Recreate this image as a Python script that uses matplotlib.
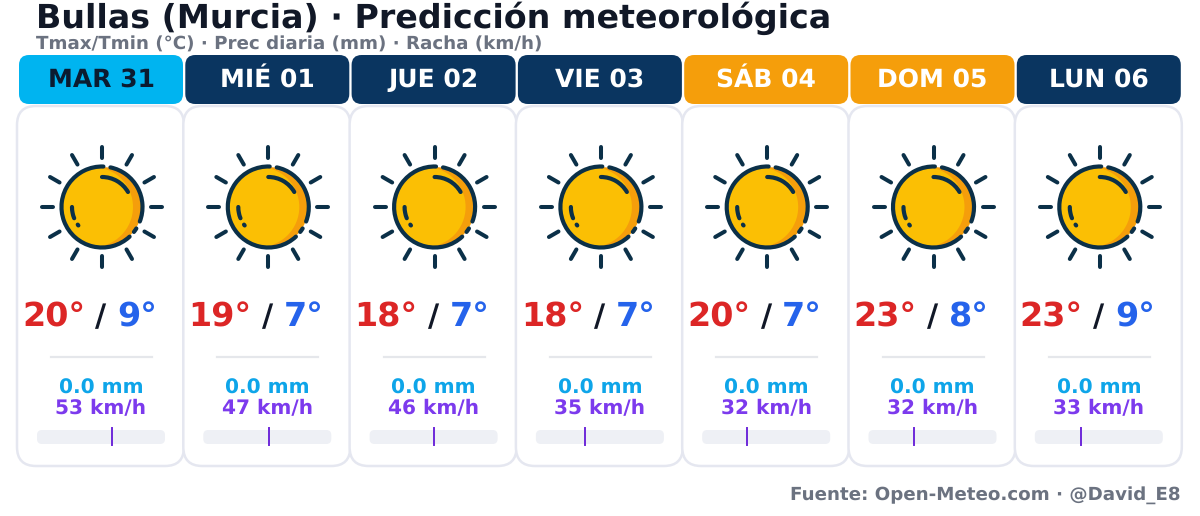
import numpy as np
import matplotlib.pyplot as plt
from matplotlib.patches import FancyBboxPatch, Circle, Arc

plt.rcParams["text.hinting"] = "none"

days = ["MAR 31", "MIÉ 01", "JUE 02", "VIE 03", "SÁB 04", "DOM 05", "LUN 06"]
tmax = [20, 19, 18, 18, 20, 23, 23]
tmin = [9, 7, 7, 7, 7, 8, 9]
prec = [0.0, 0.0, 0.0, 0.0, 0.0, 0.0, 0.0]
gust = [53, 47, 46, 35, 32, 32, 33]
header_colors = ["#00b4f0", "#0a3560", "#0a3560", "#0a3560", "#f59e0b", "#f59e0b", "#0a3560"]
header_text = ["#0b1b30", "white", "white", "white", "white", "white", "white"]
gust_max = 91

DARK = "#0b3048"

fig = plt.figure(figsize=(12, 5.16), dpi=100)
ax = fig.add_axes([0, 0, 1, 1])
ax.set_xlim(0, 1200)
ax.set_ylim(516, 0)
ax.axis("off")


def rbox(x0, y0, x1, y1, r, **kw):
    p = FancyBboxPatch((x0 + r, y0 + r), x1 - x0 - 2 * r, y1 - y0 - 2 * r,
                       boxstyle=f"round,pad={r},rounding_size={r}", **kw)
    ax.add_patch(p)


def draw_sun(cx, cy):
    # rays
    for a in np.arange(0, 360, 30):
        c, s = np.cos(np.radians(a)), np.sin(np.radians(a))
        ax.plot([cx + 49 * c, cx + 60 * c], [cy + 49 * s, cy + 60 * s], color=DARK,
                lw=2.9, solid_capstyle="round", zorder=3)
    # orange disc with yellow crescent cut
    disc = Circle((cx, cy), 40, fc="#f59e0b", ec="none", zorder=3)
    ax.add_patch(disc)
    yellow = Circle((cx - 9, cy), 40, fc="#fbbf04", ec="none", zorder=4)
    ax.add_patch(yellow)
    yellow.set_clip_path(disc)
    # outline with gaps (y axis inverted, angles go clockwise on screen)
    lw = 3.0
    for t1, t2 in [(-78, 21), (32, 38), (47, 272)]:
        ax.add_patch(Arc((cx, cy), 81, 81, theta1=t1, theta2=t2, color=DARK, lw=lw,
                         capstyle="round", zorder=5))
    # highlights
    for t1, t2 in [(-90, -30), (158, 180), (142, 144)]:
        ax.add_patch(Arc((cx, cy), 60, 60, theta1=t1, theta2=t2, color=DARK, lw=lw,
                         capstyle="round", zorder=5))


ax.text(36, 18, "Bullas (Murcia) · Predicción meteorológica", fontsize=23.95, fontweight="bold",
        color="#111827", ha="left", va="center")
ax.text(36, 44.5, "Tmax/Tmin (°C) · Prec diaria (mm) · Racha (km/h)", fontsize=13.17, fontweight="bold",
        color="#6b7280", ha="left", va="center")
ax.text(1181, 495, "Fuente: Open-Meteo.com · @David_E8", fontsize=13.17, fontweight="bold",
        color="#6b7280", ha="right", va="center")

pitch = 166.3
for i, day in enumerate(days):
    cx = 101 + i * pitch
    rbox(cx - 84, 106, cx + 83, 466, 19, fc="white", ec="#e5e7f0", lw=1.8, zorder=1)
    rbox(cx - 82, 55, cx + 82, 104, 10, fc=header_colors[i], ec="none", zorder=2)
    ax.text(cx, 80, day, fontsize=18, fontweight="bold", color=header_text[i],
            ha="center", va="center", zorder=6)

    draw_sun(cx + 1, 207)

    # temperatures
    ax.text(cx - 16, 317, f"{tmax[i]}°", fontsize=24, fontweight="bold", color="#dc2626",
            ha="right", va="center", zorder=6)
    ax.text(cx, 318, "/", fontsize=22, fontweight="bold", color="#111827",
            ha="center", va="center", zorder=6)
    ax.text(cx + 16, 317, f"{tmin[i]}°", fontsize=24, fontweight="bold", color="#2563eb",
            ha="left", va="center", zorder=6)

    ax.plot([cx - 50, cx + 51], [357, 357], color="#e5e7eb", lw=1.6, zorder=2)

    ax.text(cx, 388, f"{prec[i]:.1f} mm", fontsize=14.5, fontweight="bold", color="#0ea5e9",
            ha="center", va="center", zorder=6)
    ax.text(cx, 409, f"{gust[i]} km/h", fontsize=14.5, fontweight="bold", color="#7c3aed",
            ha="center", va="center", zorder=6)

    # gust gauge
    rbox(cx - 64, 430, cx + 64, 444, 5, fc="#eef0f5", ec="none", zorder=2)
    gx = cx - 64 + 128 * gust[i] / gust_max
    ax.plot([gx, gx], [428, 445], color="#6d28d9", lw=1.4, zorder=3)

fig.savefig("out.png", dpi=100)
